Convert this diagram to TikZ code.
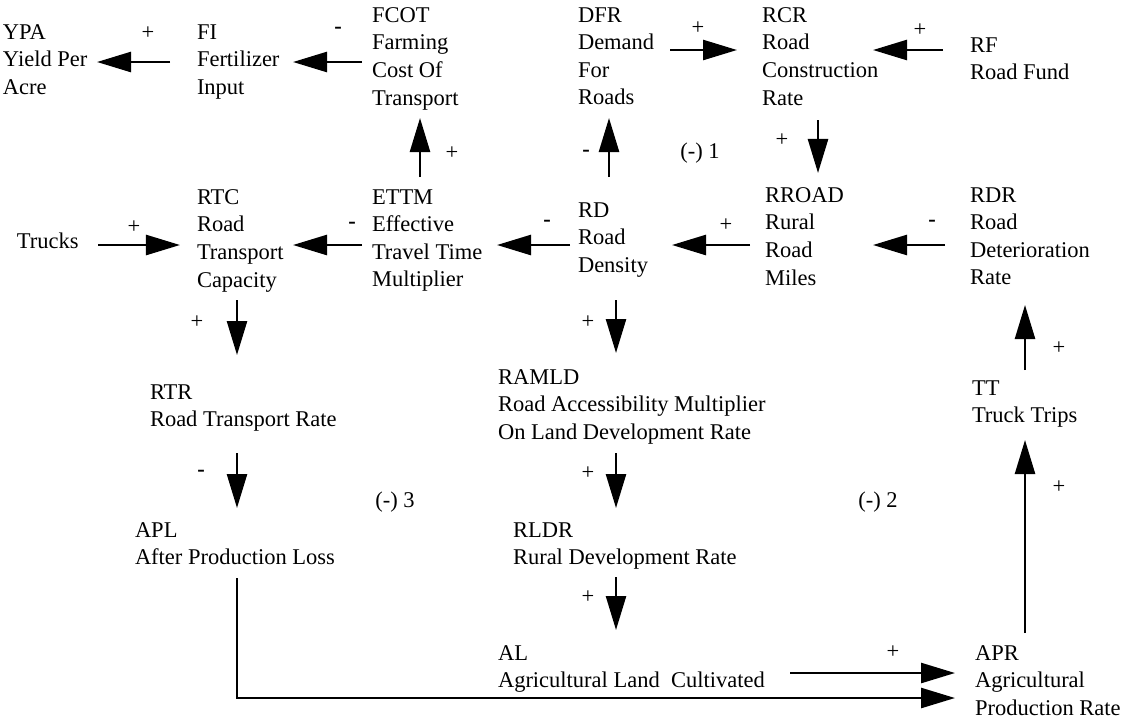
\documentclass[tikz,border=0pt]{standalone}
\usepackage{fontspec}
\setmainfont{Liberation Serif}
\usepackage{tikz}
\usetikzlibrary{arrows.meta}
\tikzset{
  var/.style={anchor=north west, inner sep=0pt, outer sep=0pt,
              align=left, font=\fontsize{16}{19.6}\selectfont},
  sgn/.style={inner sep=0pt, font=\fontsize{16}{19.6}\selectfont},
  loopmark/.style={inner sep=0pt, font=\fontsize{16}{19.6}\selectfont},
  flow/.style={-{Triangle[length=8.5mm,width=5mm]}, line width=1.8pt},
}

\begin{document}
\begin{tikzpicture}[x=0.025cm,y=-0.025cm]
  \path[use as bounding box] (0,0) rectangle (1122,719);

  % top row
  \node[var] (YPA) at (3,24.5) {YPA\\Yield Per\\Acre};
  \node[var] (FI) at (197,24.5) {FI\\Fertilizer\\Input};
  \node[var] (FCOT) at (372,7.5) {FCOT\\Farming\\Cost Of\\Transport};
  \node[var] (DFR) at (578,7.5) {DFR\\Demand\\For\\Roads};
  \node[var] (RCR) at (762,7.5) {RCR\\Road\\Construction\\Rate};
  \node[var] (RF) at (970,37.5) {RF\\Road Fund};

  % second row
  \node[var] (Trucks) at (17,232.5) {Trucks};
  \node[var] (RTC) at (197,189.5) {RTC\\Road\\Transport\\Capacity};
  \node[var] (ETTM) at (372,189.5) {ETTM\\Effective\\Travel Time\\Multiplier};
  \node[var] (RD) at (578,202.5) {RD\\Road\\Density};
  \node[var] (RROAD) at (765,187.5) {RROAD\\Rural\\Road\\Miles};
  \node[var] (RDR) at (970,187.5) {RDR\\Road\\Deterioration\\Rate};

  % lower part
  \node[var] (RTR) at (150,384.5) {RTR\\Road Transport Rate};
  \node[var] (RAMLD) at (498,369.5)
    {RAMLD\\Road Accessibility Multiplier\\On Land Development Rate};
  \node[var] (TT) at (972,380.5) {TT\\Truck Trips};
  \node[var] (APL) at (135,522.5) {APL\\After Production Loss};
  \node[var] (RLDR) at (513,522.5) {RLDR\\Rural Development Rate};
  \node[var] (AL) at (498,645.5) {AL\\Agricultural Land\ \ Cultivated};
  \node[var] (APR) at (975,645.5) {APR\\Agricultural\\Production Rate};

  % loop marks
  \node[loopmark] (loop1) at (700,153) {(-) 1};
  \node[loopmark] (loop2) at (878,502) {(-) 2};
  \node[loopmark] (loop3) at (395,502) {(-) 3};

  % links of the top row
  \draw[flow] ([shift={(-27,37.5)}]FI.north west) -- ([shift={(94,37.5)}]YPA.north west);
  \node[sgn] (sFI) at (148,33) {+};
  \draw[flow] ([shift={(-10,54.5)}]FCOT.north west) -- ([shift={(96,37.5)}]FI.north west);
  \node[sgn] (sFCOT) at (338,30) {\textbf{-}};
  \draw[flow] ([shift={(92,42.5)}]DFR.north west) -- ([shift={(-25,42.5)}]RCR.north west);
  \node[sgn] (sDFR) at (698,28) {+};
  \draw[flow] ([shift={(-27,12.5)}]RF.north west) -- ([shift={(111,42.5)}]RCR.north west);
  \node[sgn] (sRF) at (920,30) {+};

  % between the top rows
  \draw[flow] ([shift={(48,-12.5)}]ETTM.north west) -- ([shift={(48,110.5)}]FCOT.north west);
  \node[sgn] (sETTMup) at (452,153) {+};
  \draw[flow] ([shift={(31,-25.5)}]RD.north west) -- ([shift={(31,110.5)}]DFR.north west);
  \node[sgn] (sRDup) at (586,153) {\textbf{-}};
  \draw[flow] ([shift={(56,112.5)}]RCR.north west) -- ([shift={(53,-14.5)}]RROAD.north west);
  \node[sgn] (sRCR) at (782,140) {+};

  % links of the second row
  \draw[flow] ([shift={(81,12.5)}]Trucks.north west) -- ([shift={(-17,55.5)}]RTC.north west);
  \node[sgn] (sTrucks) at (134,227) {+};
  \draw[flow] ([shift={(-10,55.5)}]ETTM.north west) -- ([shift={(96,55.5)}]RTC.north west);
  \node[sgn] (sETTM) at (352,225) {\textbf{-}};
  \draw[flow] ([shift={(-8,42.5)}]RD.north west) -- ([shift={(125,55.5)}]ETTM.north west);
  \node[sgn] (sRD) at (547,223) {\textbf{-}};
  \draw[flow] ([shift={(-15,57.5)}]RROAD.north west) -- ([shift={(94,42.5)}]RD.north west);
  \node[sgn] (sRROAD) at (726,225) {+};
  \draw[flow] ([shift={(-25,57.5)}]RDR.north west) -- ([shift={(108,57.5)}]RROAD.north west);
  \node[sgn] (sRDR) at (932,223) {\textbf{-}};

  % downward chains
  \draw[flow] ([shift={(40,110.5)}]RTC.north west) -- ([shift={(87,-29.5)}]RTR.north west);
  \node[sgn] (sRTC) at (197,322) {+};
  \draw[flow] ([shift={(87,68.5)}]RTR.north west) -- ([shift={(102,-14.5)}]APL.north west);
  \node[sgn] (sRTR) at (201,473) {\textbf{-}};
  \draw[flow] ([shift={(38,97.5)}]RD.north west) -- ([shift={(118,-16.5)}]RAMLD.north west);
  \node[sgn] (sRDdown) at (588,322) {+};
  \draw[flow] ([shift={(118,83.5)}]RAMLD.north west) -- ([shift={(103,-14.5)}]RLDR.north west);
  \node[sgn] (sRAMLD) at (588,473) {+};
  \draw[flow] ([shift={(103,54.5)}]RLDR.north west) -- ([shift={(118,-15.5)}]AL.north west);
  \node[sgn] (sRLDR) at (588,597) {+};

  % right column and bottom
  \draw[flow] ([shift={(53,-10.5)}]TT.north west) -- ([shift={(55,117.5)}]RDR.north west);
  \node[sgn] (sTT) at (1059,348) {+};
  \draw[flow] ([shift={(50,-12.5)}]APR.north west) -- ([shift={(53,59.5)}]TT.north west);
  \node[sgn] (sAPR) at (1059,487) {+};
  \draw[flow] ([shift={(292,27.5)}]AL.north west) -- ([shift={(-20,27.5)}]APR.north west);
  \node[sgn] (sAL) at (893,652) {+};
  \draw[flow] ([shift={(102,55.5)}]APL.north west) |- ([shift={(-20,52.5)}]APR.north west);
\end{tikzpicture}
\end{document}
